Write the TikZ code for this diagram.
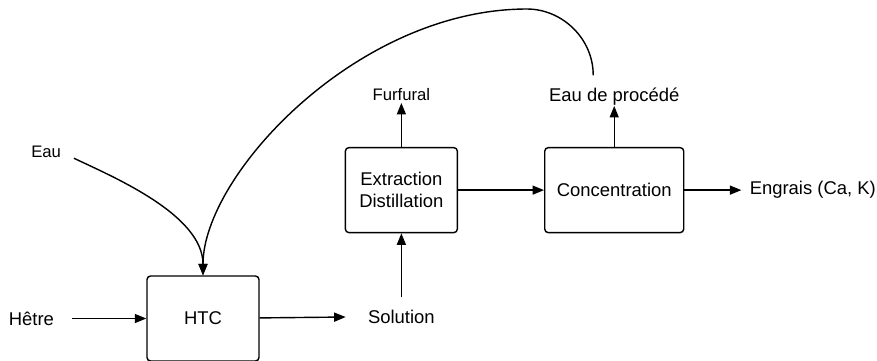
\documentclass[tikz,border=0pt]{standalone}
\usepackage{fontspec}
\setmainfont{Liberation Sans}
\usetikzlibrary{arrows.meta,positioning}
\tikzset{
  blk/.style={draw, rectangle, rounded corners=2pt, minimum height=1.7cm, minimum width=2.24cm, align=center, font=\fontsize{10.5}{12.3}\selectfont, thick},
  lbl/.style={inner sep=0pt, font=\fontsize{10.5}{12.3}\selectfont},
  slbl/.style={inner sep=0pt, font=\fontsize{9.5}{11}\selectfont},
  arr/.style={-{Triangle[length=2.3mm, width=1.8mm]}, thick},
}
\begin{document}
\begin{tikzpicture}[x=0.02cm, y=-0.02cm]
\useasboundingbox (0,0) rectangle (877,360);

\node[blk] (htc) at (203,318.5) {HTC};
\node[blk, above right=0.84cm and 1.7cm of htc] (extr) {Extraction\\Distillation};
\node[blk, right=1.72cm of extr, minimum width=2.78cm] (conc) {Concentration};

\node[lbl, left=1.84cm of htc] (hetre) {Hêtre};
\node[slbl, above left=2.34cm and 1.7cm of htc] (eau) {Eau};
\node[lbl, below=1.52cm of extr] (sol) {Solution};
\node[slbl, above=0.92cm of extr] (furf) {Furfural};
\node[lbl, above=0.82cm of conc] (eaup) {Eau de procédé};
\node[lbl, right=1.3cm of conc] (engr) {Engrais (Ca, K)};

% recycled water loop
\coordinate (ret) at ([xshift=-0.42cm, yshift=0.25cm]eaup.north);
\coordinate (peak) at (527,9);

\draw[arr, shorten <=0.36cm] (hetre) -- (htc);
\draw[arr, shorten <=0.28cm] (eau.east) .. controls +(50,24) and +(0,-61) .. (htc.north);
\draw[arr] (ret) .. controls +(0,-37) and +(35,0) .. (peak)
  .. controls +(-170,0) and +(0,-100) .. (htc.north);
\draw[arr, shorten >=0.44cm] (htc) -- (sol);
\draw[arr, shorten <=0.24cm] (sol) -- (extr);
\draw[arr, shorten >=0.04cm] (extr) -- (furf);
\draw[arr] (extr) -- (conc);
\draw[arr] (conc) -- (eaup);
\draw[arr, shorten >=0.16cm] (conc) -- (engr);

\end{tikzpicture}
\end{document}
